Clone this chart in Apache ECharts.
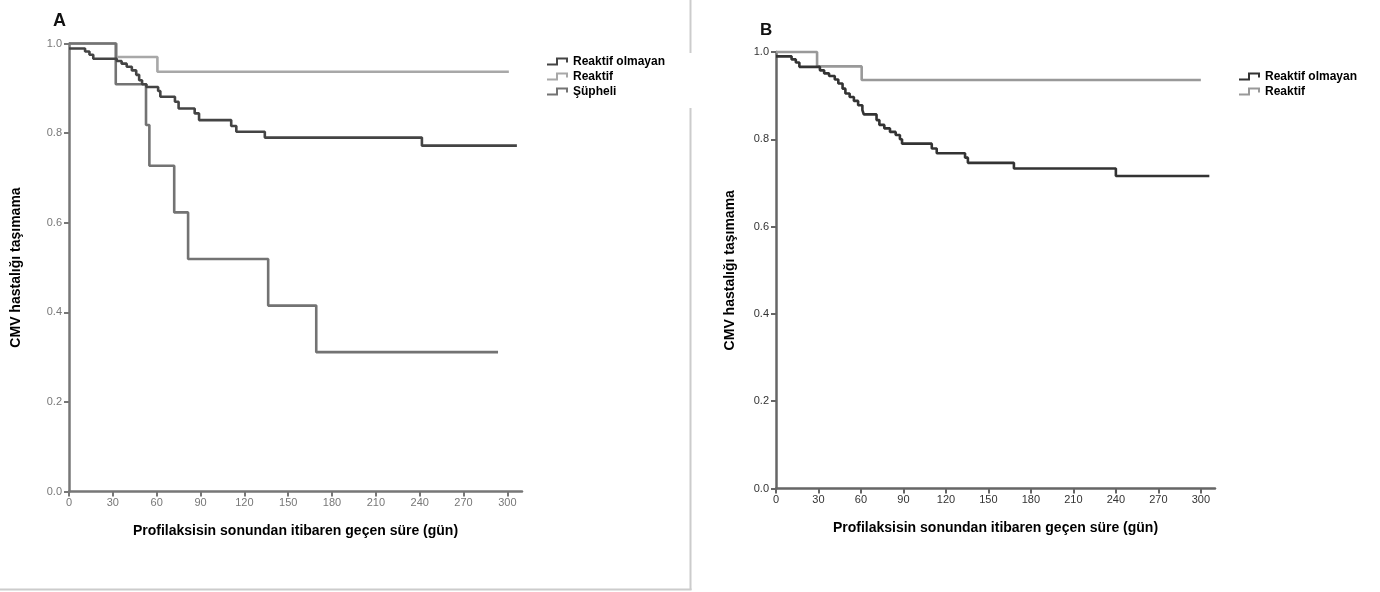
<!DOCTYPE html>
<html>
<head>
<meta charset="utf-8">
<script src="https://cdn.jsdelivr.net/npm/echarts@6/dist/echarts.min.js"></script>
<style>html,body{margin:0;padding:0;background:#fff;}#c{width:1380px;height:592px;}</style>
</head>
<body>
<div id="c"></div>
<script>
// ---- data ----
const xTicks = [0, 30, 60, 90, 120, 150, 180, 210, 240, 270, 300];
const yTicks = [0, 0.2, 0.4, 0.6, 0.8, 1.0];
const xTitle = 'Profilaksisin sonundan itibaren geçen süre (gün)';
const yTitle = 'CMV hastalığı taşımama';
const namesA = ['Reaktif olmayan', 'Reaktif', 'Şüpheli'];
const namesB = ['Reaktif olmayan', 'Reaktif'];

// Panel A: [day, survival]
const A_nonReactive = [[0,0.989],[11,0.982],[14,0.975],[16.6,0.966],[32.7,0.961],[36,0.955],[39.5,0.948],[43,0.94],[46,0.93],[48,0.918],[50,0.909],[53,0.903],[61,0.894],[62.5,0.881],[72.5,0.87],[75,0.855],[86,0.844],[89,0.829],[111,0.816],[114.5,0.803],[134,0.79],[241.5,0.772],[306.5,0.772]];
const A_reactive = [[0,1.0],[32.5,0.97],[60.5,0.937],[301,0.937]];
const A_suspect = [[0,1.0],[32,0.909],[52.7,0.818],[55,0.727],[72,0.623],[81.5,0.519],[136.3,0.415],[169.2,0.311],[293.6,0.311]];

// Panel B: [day, survival]
const B_nonReactive = [[0,0.99],[11,0.983],[14,0.976],[16.5,0.966],[31,0.958],[34,0.951],[37.5,0.945],[41.5,0.937],[44,0.928],[47,0.916],[49,0.905],[52,0.897],[55,0.888],[58,0.878],[61,0.867],[62,0.857],[71,0.844],[73,0.833],[76.5,0.825],[80.5,0.817],[84.5,0.81],[87.5,0.80],[89,0.79],[110,0.779],[113.5,0.768],[133.5,0.758],[135.5,0.746],[168,0.733],[240,0.716],[306,0.716]];
const B_reactive = [[0,1.0],[29,0.967],[60.5,0.936],[300,0.936]];

// ---- styles ----
const FONT = 'Liberation Sans, Arial, sans-serif';
const stepIcon = 'path://M0,6 L9,6 L9,0 L21,0 L21,5 L19,5 L19,2 L11,2 L11,8 L0,8 Z';
const colA = ['#444444', '#a8a8a8', '#737373'];
const colB = ['#333333', '#999999'];

function xAxisOpt(gi, axisColor, labelColor) {
  return {
    type: 'value', gridIndex: gi, min: 0, max: 310,
    name: xTitle, nameLocation: 'middle', nameGap: 33,
    nameTextStyle: { fontFamily: FONT, fontWeight: 'bold', fontSize: 14, color: '#000' },
    axisLine: { show: true, lineStyle: { color: axisColor, width: 2.5 } },
    axisTick: { show: true, length: 5, customValues: xTicks, lineStyle: { color: axisColor, width: 2 } },
    axisLabel: { customValues: xTicks, margin: 6, fontFamily: FONT, fontSize: 11, color: labelColor },
    splitLine: { show: false }
  };
}
function yAxisOpt(gi, axisColor, labelColor, gap) {
  return {
    type: 'value', gridIndex: gi, min: 0, max: 1, interval: 0.2,
    name: yTitle, nameLocation: 'middle', nameGap: gap,
    nameTextStyle: { fontFamily: FONT, fontWeight: 'bold', fontSize: 14, color: '#000' },
    axisLine: { show: true, lineStyle: { color: axisColor, width: 2.5 } },
    axisTick: { show: true, length: 5, customValues: yTicks, lineStyle: { color: axisColor, width: 2 } },
    axisLabel: { customValues: yTicks, margin: 7, fontFamily: FONT, fontSize: 11, color: labelColor,
                 formatter: v => Number(v).toFixed(1) },
    splitLine: { show: false }
  };
}
function ser(name, data, xi, color) {
  return { name: name, type: 'line', step: 'end', symbol: 'none', data: data,
           xAxisIndex: xi, yAxisIndex: xi, clip: false,
           lineStyle: { color: color, width: 2.6 }, itemStyle: { color: color } };
}
function legendOpt(left, top, names, cols) {
  return {
    orient: 'vertical', left: left, top: top, itemWidth: 21, itemHeight: 8,
    itemGap: 0, itemTextGap: 4, selectedMode: false, padding: 0,
    textStyle: { fontFamily: FONT, fontWeight: 'bold', fontSize: 12, color: '#000', lineHeight: 15 },
    data: names.map((n, i) => ({ name: n, icon: stepIcon, itemStyle: { color: cols[i], borderWidth: 0 } }))
  };
}

const chart = echarts.init(document.getElementById('c'), null, { renderer: 'canvas' });
chart.setOption({
  animation: false,
  backgroundColor: '#fff',
  grid: [
    { left: 69, top: 43.5, width: 453, height: 448 },
    { left: 776, top: 52, width: 439, height: 436.5 }
  ],
  xAxis: [ xAxisOpt(0, '#777', '#777'), xAxisOpt(1, '#666', '#333') ],
  yAxis: [ yAxisOpt(0, '#777', '#777', 46), yAxisOpt(1, '#666', '#333', 39) ],
  legend: [ legendOpt(547, 54, namesA, colA), legendOpt(1239, 69, namesB, colB) ],
  series: [
    ser(namesA[1], A_reactive, 0, colA[1]),
    ser(namesA[2], A_suspect, 0, colA[2]),
    ser(namesA[0], A_nonReactive, 0, colA[0]),
    ser(namesB[1], B_reactive, 1, colB[1]),
    ser(namesB[0], B_nonReactive, 1, colB[0])
  ],
  graphic: [
    { type: 'text', left: 53, top: 12, style: { text: 'A', font: 'bold 18px ' + FONT, fill: '#111' } },
    { type: 'text', left: 760, top: 22, style: { text: 'B', font: 'bold 17px ' + FONT, fill: '#111' } },
    { type: 'line', shape: { x1: 690.5, y1: 0, x2: 690.5, y2: 53 }, style: { stroke: '#cccccc', lineWidth: 2 } },
    { type: 'line', shape: { x1: 690.5, y1: 108, x2: 690.5, y2: 590 }, style: { stroke: '#cccccc', lineWidth: 2 } },
    { type: 'line', shape: { x1: 0, y1: 589.5, x2: 691.5, y2: 589.5 }, style: { stroke: '#cccccc', lineWidth: 2 } }
  ]
});
</script>
</body>
</html>
